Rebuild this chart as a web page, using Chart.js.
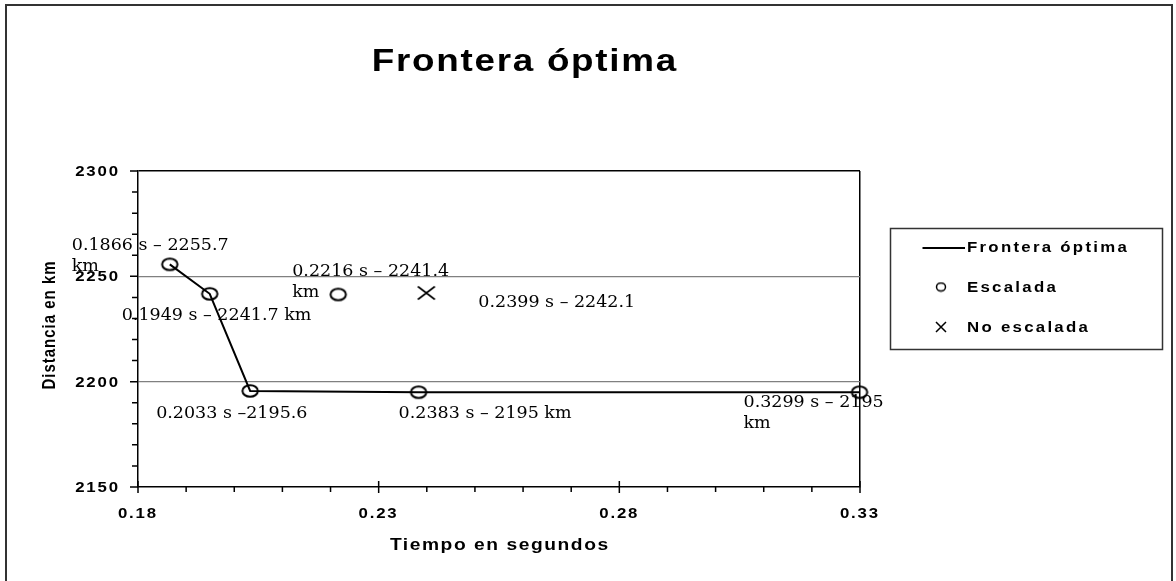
<!DOCTYPE html>
<html>
<head>
<meta charset="utf-8">
<script src="https://cdn.jsdelivr.net/npm/chart.js@4"></script>
<style>
  body { margin: 0; background: #fff; }
  canvas { display: block; }
</style>
</head>
<body>
<canvas id="frontierChart" width="1176" height="581"></canvas>
<script>
// axis ticks
const xTicks = [0.18, 0.23, 0.28, 0.33];
const xTickLabels = ["0.18", "0.23", "0.28", "0.33"];
const xMinorTicks = [0.19, 0.20, 0.21, 0.22, 0.24, 0.25, 0.26, 0.27, 0.29, 0.30, 0.31, 0.32];
const yTicks = [2150, 2200, 2250, 2300];
const yTickLabels = ["2150", "2200", "2250", "2300"];
const yMinorTicks = [2160, 2170, 2180, 2190, 2210, 2220, 2230, 2240, 2260, 2270, 2280, 2290];

// series
const fronteraX = [0.1866, 0.1949, 0.2033, 0.2383, 0.3299];
const fronteraY = [2255.7, 2241.7, 2195.6, 2195, 2195];

const escaladaX = [0.1866, 0.1949, 0.2033, 0.2216, 0.2383, 0.3299];
const escaladaY = [2255.7, 2241.7, 2195.6, 2241.4, 2195, 2195];
const escaladaLabels = [
  ["0.1866 s – 2255.7", "km"],
  ["0.1949 s – 2241.7 km"],
  ["0.2033 s –2195.6"],
  ["0.2216 s – 2241.4", "km"],
  ["0.2383 s – 2195 km"],
  ["0.3299 s – 2195", "km"],
];

const noEscaladaX = [0.2399];
const noEscaladaY = [2242.1];
const noEscaladaLabels = [["0.2399 s – 2242.1"]];

// label placement relative to its point: left edge, first baseline (px)
const escaladaLabelOffsets = [[-98, -14], [-88, 26], [-94, 27], [-46, -18], [-20, 26], [-116, 15]];
const noEscaladaLabelOffsets = [[52, 14]];

const sans = "'Liberation Sans', Arial, sans-serif";
const serif = "'DejaVu Serif', serif";

function markerCanvas(w, h, draw) {
  const c = document.createElement("canvas");
  c.width = w;
  c.height = h;
  const g = c.getContext("2d");
  g.strokeStyle = "#000";
  draw(g);
  return c;
}

const ellipseMark = markerCanvas(20, 16, g => {
  g.lineWidth = 2;
  g.beginPath();
  g.ellipse(10, 8, 7.7, 5.8, 0, 0, Math.PI * 2);
  g.stroke();
});
const crossMark = markerCanvas(20, 16, g => {
  g.lineWidth = 1.6;
  g.beginPath();
  g.moveTo(1.5, 1.5); g.lineTo(18.5, 14.5);
  g.moveTo(18.5, 1.5); g.lineTo(1.5, 14.5);
  g.stroke();
});
const smallEllipse = markerCanvas(12, 11, g => {
  g.lineWidth = 1.5;
  g.beginPath();
  g.ellipse(6, 5.5, 4.5, 4, 0, 0, Math.PI * 2);
  g.stroke();
});
const smallCross = markerCanvas(12, 12, g => {
  g.lineWidth = 1.5;
  g.beginPath();
  g.moveTo(1, 1); g.lineTo(11, 11);
  g.moveTo(11, 1); g.lineTo(1, 11);
  g.stroke();
});

const toPoints = (xs, ys) => xs.map((x, i) => ({ x: x, y: ys[i] }));

// the old export has wide, horizontally stretched bold lettering
function wideText(ctx, text, x, y, size, stretch, spacing, align) {
  ctx.save();
  ctx.font = "bold " + size + "px " + sans;
  ctx.letterSpacing = spacing + "px";
  ctx.textAlign = "left";
  ctx.textBaseline = "alphabetic";
  const w = (ctx.measureText(text).width - spacing) * stretch;
  let left = x;
  if (align === "center") left = x - w / 2;
  if (align === "right") left = x - w;
  ctx.translate(left, y);
  ctx.scale(stretch, 1);
  ctx.fillText(text, 0, 0);
  ctx.restore();
}

function drawLabels(ctx, meta, labels, offsets) {
  meta.data.forEach((pt, i) => {
    const [dx, dy] = offsets[i];
    labels[i].forEach((line, j) => ctx.fillText(line, pt.x + dx, pt.y + dy + j * 21));
  });
}

const excelLook = {
  id: "excelLook",
  beforeDraw(chart) {
    const ctx = chart.ctx;
    ctx.save();
    ctx.fillStyle = "#fff";
    ctx.fillRect(0, 0, chart.width, chart.height);
    ctx.restore();
  },
  afterDraw(chart) {
    const ctx = chart.ctx;
    const area = chart.chartArea;
    const xs = chart.scales.x, ys = chart.scales.y;
    ctx.save();

    // tick marks
    ctx.strokeStyle = "#000";
    ctx.lineWidth = 1.5;
    ctx.beginPath();
    yTicks.forEach(v => { const p = ys.getPixelForValue(v); ctx.moveTo(area.left - 8, p); ctx.lineTo(area.left, p); });
    yMinorTicks.forEach(v => { const p = ys.getPixelForValue(v); ctx.moveTo(area.left - 6, p); ctx.lineTo(area.left, p); });
    xTicks.forEach(v => { const p = xs.getPixelForValue(v); ctx.moveTo(p, area.bottom - 6); ctx.lineTo(p, area.bottom + 6); });
    xMinorTicks.forEach(v => { const p = xs.getPixelForValue(v); ctx.moveTo(p, area.bottom); ctx.lineTo(p, area.bottom + 5); });
    ctx.stroke();

    // tick labels
    ctx.fillStyle = "#000";
    yTicks.forEach((v, i) => wideText(ctx, yTickLabels[i], area.left - 20, ys.getPixelForValue(v) + 5, 14, 1.2, 1.5, "right"));
    xTicks.forEach((v, i) => wideText(ctx, xTickLabels[i], xs.getPixelForValue(v) - 1, area.bottom + 31, 14, 1.2, 1.5, "center"));

    // titles
    wideText(ctx, "Frontera óptima", 524, 71, 32, 1.15, 1.5, "center");
    wideText(ctx, "Tiempo en segundos", 499, 550, 16, 1.2, 1.3, "center");
    ctx.save();
    ctx.translate(55, 325);
    ctx.rotate(-Math.PI / 2);
    ctx.scale(1, 1.2);
    ctx.font = "bold 15px " + sans;
    ctx.letterSpacing = "1px";
    ctx.textAlign = "center";
    ctx.fillText("Distancia en km", 0, 0);
    ctx.restore();

    // data labels
    ctx.textAlign = "left";
    ctx.textBaseline = "alphabetic";
    ctx.letterSpacing = "0px";
    ctx.font = "17.5px " + serif;
    drawLabels(ctx, chart.getDatasetMeta(1), escaladaLabels, escaladaLabelOffsets);
    drawLabels(ctx, chart.getDatasetMeta(2), noEscaladaLabels, noEscaladaLabelOffsets);

    // legend
    const sets = chart.data.datasets;
    ctx.strokeStyle = "#333";
    ctx.lineWidth = 1.5;
    ctx.strokeRect(890.5, 228.5, 272, 121);
    ctx.strokeStyle = "#000";
    ctx.lineWidth = 2;
    ctx.beginPath();
    ctx.moveTo(922.5, 248);
    ctx.lineTo(965, 248);
    ctx.stroke();
    ctx.drawImage(smallEllipse, 941 - 6, 287 - 5.5);
    ctx.drawImage(smallCross, 941 - 6, 327 - 6);
    wideText(ctx, sets[0].label, 967, 251.5, 14, 1.2, 1.9, "left");
    wideText(ctx, sets[1].label, 967, 292, 14, 1.2, 1.9, "left");
    wideText(ctx, sets[2].label, 967, 332, 14, 1.2, 1.9, "left");

    // chart frame
    ctx.strokeStyle = "#333";
    ctx.lineWidth = 2;
    ctx.strokeRect(6, 5, 1166, 620);
    ctx.restore();
  }
};

new Chart(document.getElementById("frontierChart"), {
  type: "scatter",
  data: {
    datasets: [
      {
        type: "line",
        label: "Frontera óptima",
        data: toPoints(fronteraX, fronteraY),
        borderColor: "#000",
        borderWidth: 2,
        pointRadius: 0,
        fill: false,
        tension: 0,
        clip: false,
      },
      {
        label: "Escalada",
        data: toPoints(escaladaX, escaladaY),
        pointStyle: ellipseMark,
        pointRadius: 8,
        clip: false,
      },
      {
        label: "No escalada",
        data: toPoints(noEscaladaX, noEscaladaY),
        pointStyle: crossMark,
        pointRadius: 8,
        clip: false,
      },
    ],
  },
  options: {
    responsive: false,
    animation: false,
    events: [],
    layout: { padding: { left: 0, top: 171, right: 316, bottom: 0 } },
    plugins: {
      legend: { display: false },
      title: { display: false },
      tooltip: { enabled: false },
    },
    scales: {
      x: {
        type: "linear",
        min: 0.18,
        max: 0.33,
        afterBuildTicks: s => { s.ticks = xTicks.map(v => ({ value: v })); },
        afterFit: s => { s.height = 94; },
        ticks: { display: false },
        grid: {
          drawTicks: false,
          color: c => (c.tick && c.tick.value === 0.33 ? "#000" : "rgba(0,0,0,0)"),
          lineWidth: 1.5,
        },
        border: { color: "#000", width: 1.5 },
      },
      y: {
        type: "linear",
        min: 2150,
        max: 2300,
        afterBuildTicks: s => { s.ticks = yTicks.map(v => ({ value: v })); },
        afterFit: s => { s.width = 138; },
        ticks: { display: false },
        grid: {
          drawTicks: false,
          color: c => {
            const v = c.tick ? c.tick.value : null;
            if (v === 2300) return "#000";
            if (v === 2150) return "rgba(0,0,0,0)";
            return "#808080";
          },
          lineWidth: c => (c.tick && c.tick.value === 2300 ? 1.5 : 1.3),
        },
        border: { color: "#000", width: 1.5 },
      },
    },
  },
  plugins: [excelLook],
});
</script>
</body>
</html>
